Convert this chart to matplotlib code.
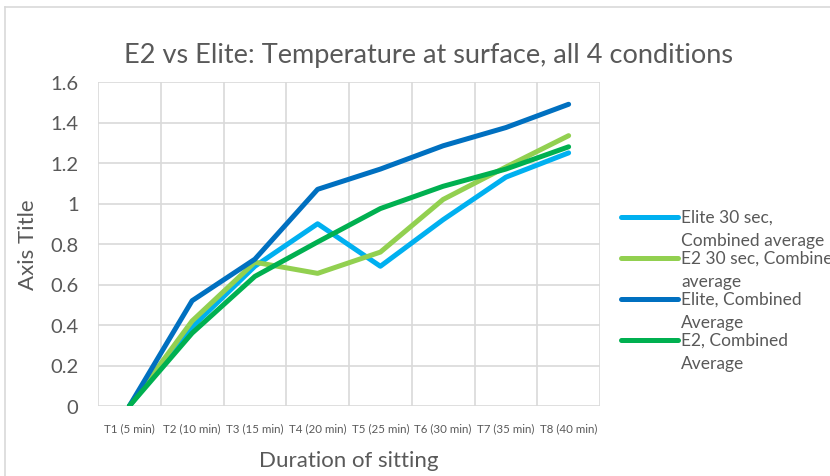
import matplotlib.pyplot as plt
from matplotlib.lines import Line2D
import numpy as np

plt.rcParams['font.family'] = ['Lato', 'DejaVu Sans']

categories = ['T1 (5 min)', 'T2 (10 min)', 'T3 (15 min)', 'T4 (20 min)',
              'T5 (25 min)', 'T6 (30 min)', 'T7 (35 min)', 'T8 (40 min)']
elite_30 = [0, 0.39, 0.69, 0.90, 0.69, 0.92, 1.13, 1.25]
e2_30 = [0, 0.42, 0.71, 0.655, 0.76, 1.02, 1.18, 1.335]
elite_comb = [0, 0.52, 0.725, 1.07, 1.17, 1.285, 1.375, 1.49]
e2_comb = [0, 0.36, 0.64, 0.81, 0.975, 1.085, 1.17, 1.28]

labels = ['Elite 30 sec,\nCombined average',
          'E2 30 sec, Combined\naverage',
          'Elite, Combined\nAverage',
          'E2, Combined\nAverage']
colors = ['#00B0F0', '#92D050', '#0070C0', '#00B050']
series = [elite_30, e2_30, elite_comb, e2_comb]

txt = '#595959'
grid = '#D9D9D9'

fig = plt.figure(figsize=(8.3, 4.77), dpi=100)
ax = fig.add_axes([98 / 830, 1 - 407 / 477, 502 / 830, 324 / 477])

x = np.arange(len(categories))
for vals, c in zip(series, colors):
    ax.plot(x, vals, color=c, lw=3.6, solid_capstyle='round', solid_joinstyle='round', zorder=3)

ax.set_xlim(-0.5, len(categories) - 0.5)
ax.set_ylim(0, 1.6)
ax.set_yticks(np.arange(0, 1.61, 0.2))
ax.set_yticklabels(['0', '0.2', '0.4', '0.6', '0.8', '1', '1.2', '1.4', '1.6'])
ax.set_xticks(x)
ax.set_xticklabels(categories)
ax.tick_params(axis='x', length=0, labelsize=8.3, colors=txt, pad=12)
ax.tick_params(axis='y', length=0, labelsize=14.5, colors=txt, pad=14)
ax.grid(axis='y', color=grid, lw=1.2, zorder=0)
for b in np.arange(-0.5, len(categories), 1.0):
    ax.axvline(b, color=grid, lw=1.2, zorder=0)
for s in ax.spines.values():
    s.set_visible(False)

ax.set_xlabel('Duration of sitting', fontsize=16, color=txt, labelpad=12)
ax.set_ylabel('Axis Title', fontsize=16, color=txt)
ax.yaxis.set_label_coords((38 - 98) / 502, 0.5)
fig.text(428 / 830, 1 - 55 / 477, 'E2 vs Elite: Temperature at surface, all 4 conditions',
         fontsize=19.5, color=txt, ha='center', va='center')

# legend on the right, drawn by hand like the Excel wrap
for i, (lab, c) in enumerate(zip(labels, colors)):
    yy = 1 - (218 + 41 * i) / 477
    fig.add_artist(Line2D([621 / 830, 678 / 830], [yy, yy], color=c, lw=3.6,
                          solid_capstyle='round', transform=fig.transFigure))
    first, second = lab.split('\n')
    fig.text(681 / 830, yy, first, fontsize=12.5, color=txt, va='center', ha='left')
    fig.text(681 / 830, yy - 23 / 477, second, fontsize=12.5, color=txt, va='center', ha='left')

# chart border (cut off at right and bottom)
fig.add_artist(Line2D([5 / 830, 1], [1 - 8 / 477, 1 - 8 / 477], color=grid, lw=1.2))
fig.add_artist(Line2D([5 / 830, 5 / 830], [0, 1 - 8 / 477], color=grid, lw=1.2))

plt.savefig('out.png', dpi=100)
